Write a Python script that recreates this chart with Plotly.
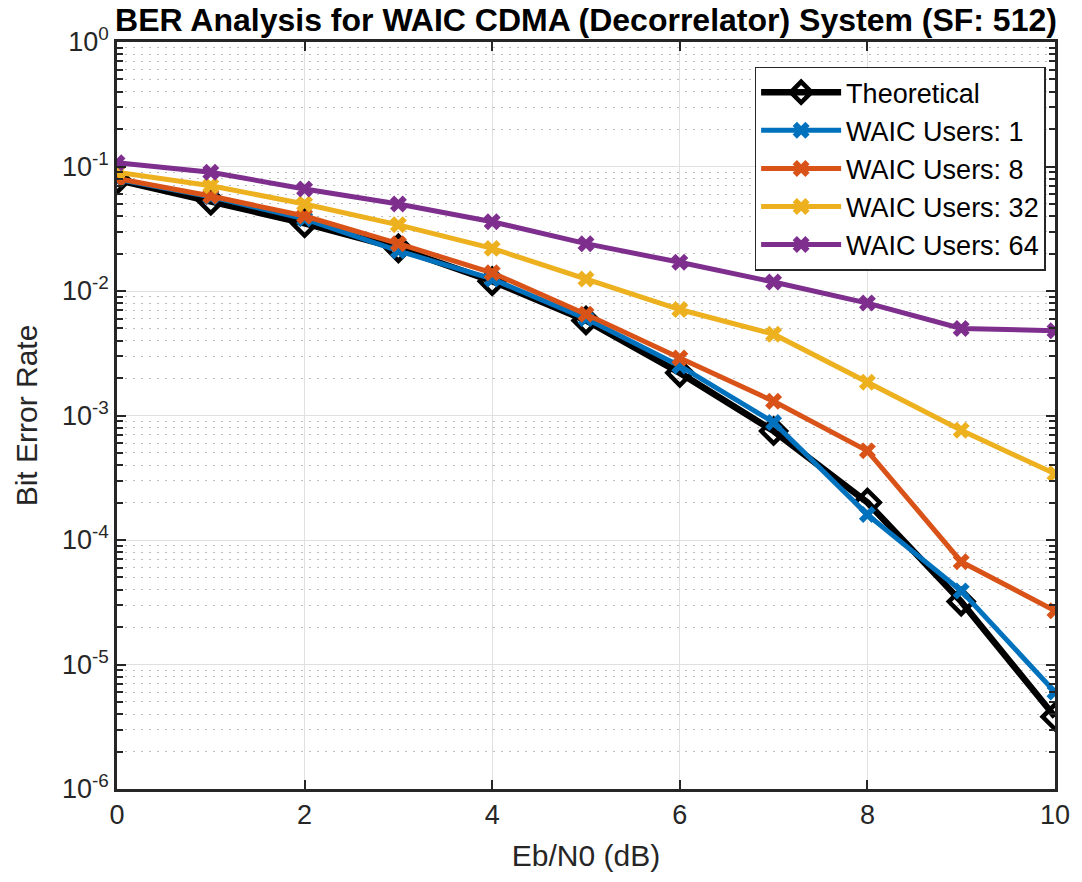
import plotly.graph_objects as go

ebn0 = [0, 1, 2, 3, 4, 5, 6, 7, 8, 9, 10]
ber_theory = [0.078, 0.053, 0.035, 0.022, 0.012, 0.0058, 0.0022, 0.00075, 0.0002, 3.2e-5, 3.8e-6]
ber_u1 = [0.079, 0.057, 0.038, 0.021, 0.0125, 0.006, 0.0025, 0.00088, 0.00016, 3.9e-5, 6.0e-6]
ber_u8 = [0.080, 0.058, 0.040, 0.024, 0.014, 0.0065, 0.0029, 0.0013, 0.00052, 6.7e-5, 2.7e-5]
ber_u32 = [0.090, 0.070, 0.050, 0.034, 0.022, 0.0125, 0.0071, 0.0045, 0.00185, 0.00076, 0.00034]
ber_u64 = [0.107, 0.090, 0.066, 0.050, 0.036, 0.024, 0.017, 0.0118, 0.0080, 0.0050, 0.0048]

series = [
    ("WAIC Users: 1", ber_u1, "#0072BD"),
    ("WAIC Users: 8", ber_u8, "#D95319"),
    ("WAIC Users: 32", ber_u32, "#EDB120"),
    ("WAIC Users: 64", ber_u64, "#7E2F8E"),
]

ytick_vals = [1e-6, 1e-5, 1e-4, 1e-3, 1e-2, 1e-1, 1]
ytick_text = ["10<sup>-6</sup>", "10<sup>-5</sup>", "10<sup>-4</sup>", "10<sup>-3</sup>",
              "10<sup>-2</sup>", "10<sup>-1</sup>", "10<sup>0</sup>"]
xtick_vals = [0, 2, 4, 6, 8, 10]

FONT = "Liberation Sans, Arial, sans-serif"

fig = go.Figure()
fig.add_trace(go.Scatter(
    x=ebn0, y=ber_theory, name="Theoretical", mode="lines+markers",
    line=dict(color="black", width=6.5),
    marker=dict(symbol="diamond-open", size=19, color="black", line=dict(width=4.5, color="black")),
))
for name, vals, col in series:
    fig.add_trace(go.Scatter(
        x=ebn0, y=vals, name=name, mode="lines+markers",
        line=dict(color=col, width=5),
        marker=dict(symbol="x", size=15, color=col, line=dict(width=0)),
    ))

tick_font = dict(family=FONT, size=27, color="#262626")
label_font = dict(family=FONT, size=30, color="#262626")
fig.update_layout(
    width=1082, height=882,
    margin=dict(l=117, r=19, t=42, b=93),
    paper_bgcolor="white", plot_bgcolor="white",
    font=dict(family=FONT, size=26, color="#262626"),
    title=dict(text="<b>BER Analysis for WAIC CDMA (Decorrelator) System (SF: 512)</b>",
               x=0.5, xref="paper", xanchor="center", y=0.977, yanchor="middle",
               font=dict(family=FONT, size=32, color="black")),
    showlegend=True,
    legend=dict(x=0.99, xanchor="right", y=0.967, yanchor="top",
                bgcolor="white", bordercolor="#262626", borderwidth=1.5,
                font=dict(family=FONT, size=27, color="black"),
                itemwidth=80, tracegroupgap=0),
)
fig.update_xaxes(
    range=[0, 10], tickvals=xtick_vals, ticks="inside", ticklen=9, tickwidth=2,
    tickcolor="#262626", showline=True, linecolor="#262626", linewidth=2.5, mirror="ticks",
    showgrid=True, gridcolor="#E0E0E0", gridwidth=1.2, zeroline=False,
    tickfont=tick_font,
    title=dict(text="Eb/N0 (dB)", font=label_font, standoff=16),
)
fig.update_yaxes(
    type="log", range=[-6, 0], tickvals=ytick_vals, ticktext=ytick_text,
    ticks="inside", ticklen=9, tickwidth=2, tickcolor="#262626",
    showline=True, linecolor="#262626", linewidth=2.5, mirror="ticks",
    showgrid=True, gridcolor="#E0E0E0", gridwidth=1.2, zeroline=False,
    minor=dict(dtick="D1", ticks="inside", ticklen=6, tickwidth=1.5, tickcolor="#262626",
               showgrid=True, gridcolor="#BDBDBD", griddash="2px,6px", gridwidth=1.2),
    tickfont=tick_font,
    title=dict(text="Bit Error Rate", font=label_font, standoff=16),
)
fig.write_html("out.html")
